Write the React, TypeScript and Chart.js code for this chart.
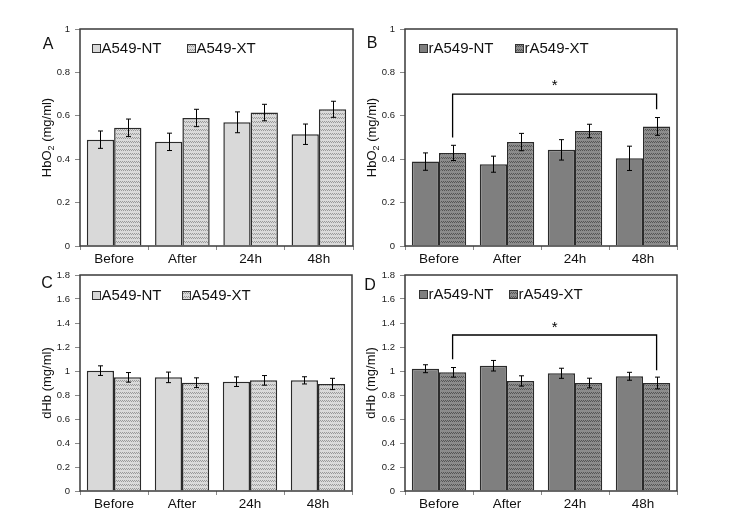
import React, { useEffect, useRef } from 'react';
import { Chart, registerables } from 'chart.js';
Chart.register(...registerables);

const FONT = "'Liberation Sans', Arial, sans-serif";

const categories = ['Before', 'After', '24h', '48h'];

// Panel A (HbO2, A549)
const aNT = [0.49, 0.48, 0.57, 0.515];
const aNTErr = [0.04, 0.04, 0.048, 0.047];
const aXT = [0.545, 0.59, 0.615, 0.63];
const aXTErr = [0.04, 0.04, 0.038, 0.037];

// Panel B (HbO2, rA549)
const bNT = [0.389, 0.377, 0.443, 0.404];
const bNTErr = [0.04, 0.037, 0.047, 0.056];
const bXT = [0.429, 0.479, 0.53, 0.551];
const bXTErr = [0.035, 0.04, 0.031, 0.041];

// Panel C (dHb, A549)
const cNT = [1.003, 0.947, 0.911, 0.922];
const cNTErr = [0.04, 0.044, 0.04, 0.03];
const cXT = [0.947, 0.903, 0.922, 0.892];
const cXTErr = [0.04, 0.04, 0.04, 0.047];

// Panel D (dHb, rA549)
const dNT = [1.019, 1.044, 0.981, 0.956];
const dNTErr = [0.033, 0.044, 0.042, 0.033];
const dXT = [0.989, 0.917, 0.9, 0.9];
const dXTErr = [0.04, 0.043, 0.04, 0.049];

// significance brackets: [fromIndex, toIndex, topValue, leftEndValue, rightEndValue, starValue]
const bracketB = [0, 3, 0.7, 0.5, 0.63, 0.75];
const bracketD = [0, 3, 1.3, 1.097, 1.006, 1.383];

const legendA = ['A549-NT', 'A549-XT'];
const legendB = ['rA549-NT', 'rA549-XT'];

function makePattern(base: string, line: string) {
  const c = document.createElement('canvas');
  c.width = 4;
  c.height = 4;
  const g = c.getContext('2d')!;
  g.fillStyle = base;
  g.fillRect(0, 0, 4, 4);
  g.fillStyle = line;
  g.fillRect(0, 1, 1, 1);
  g.fillRect(2, 1, 1, 1);
  g.fillRect(1, 2, 1, 1);
  g.fillRect(3, 2, 1, 1);
  return g.createPattern(c, 'repeat') as CanvasPattern;
}

type PanelCfg = {
  left: number; top: number; w: number; h: number;
  area: [number, number, number, number];
  letter: string; letterPos: [number, number];
  titleMain: string; titleSub: string; titleRest: string; titleX: number;
  yMax: number;
  legend: string[];
  legendSw: [number, number, number]; // x1, x2, y (page coords)
  nt: number[]; ntErr: number[]; xt: number[]; xtErr: number[];
  ntColor: string; xtBase: string; xtLine: string;
  bracket?: number[];
};

const panels: PanelCfg[] = [
  {
    left: 0, top: 0, w: 365, h: 272, area: [80, 29, 353, 246],
    letter: 'A', letterPos: [48, 45],
    titleMain: 'HbO', titleSub: '2', titleRest: ' (mg/ml)', titleX: 46,
    yMax: 1, legend: legendA, legendSw: [92, 187, 44],
    nt: aNT, ntErr: aNTErr, xt: aXT, xtErr: aXTErr,
    ntColor: '#d9d9d9', xtBase: '#dadada', xtLine: '#9a9a9a',
  },
  {
    left: 365, top: 0, w: 365, h: 272, area: [405, 29, 677, 246],
    letter: 'B', letterPos: [372, 44],
    titleMain: 'HbO', titleSub: '2', titleRest: ' (mg/ml)', titleX: 371,
    yMax: 1, legend: legendB, legendSw: [419, 515, 44],
    nt: bNT, ntErr: bNTErr, xt: bXT, xtErr: bXTErr,
    ntColor: '#7f7f7f', xtBase: '#8c8c8c', xtLine: '#555555',
    bracket: bracketB,
  },
  {
    left: 0, top: 255, w: 365, h: 262, area: [80, 275, 352, 491],
    letter: 'C', letterPos: [47, 284],
    titleMain: 'dHb', titleSub: '', titleRest: ' (mg/ml)', titleX: 46,
    yMax: 1.8, legend: legendA, legendSw: [92, 182, 291],
    nt: cNT, ntErr: cNTErr, xt: cXT, xtErr: cXTErr,
    ntColor: '#d9d9d9', xtBase: '#dadada', xtLine: '#9a9a9a',
  },
  {
    left: 365, top: 255, w: 365, h: 262, area: [405, 275, 677, 491],
    letter: 'D', letterPos: [370, 286],
    titleMain: 'dHb', titleSub: '', titleRest: ' (mg/ml)', titleX: 370,
    yMax: 1.8, legend: legendB, legendSw: [419, 509, 290],
    nt: dNT, ntErr: dNTErr, xt: dXT, xtErr: dXTErr,
    ntColor: '#7f7f7f', xtBase: '#8c8c8c', xtLine: '#555555',
    bracket: bracketD,
  },
];

function Panel({ cfg }: { cfg: PanelCfg }) {
  const ref = useRef<HTMLCanvasElement>(null);
  useEffect(() => {
    const canvas = ref.current!;
    const xtPattern = makePattern(cfg.xtBase, cfg.xtLine);
    const [aL, aT, aR, aB] = cfg.area;
    const yW = aL - cfg.left;
    const topPad = aT - cfg.top;
    const rightPad = cfg.left + cfg.w - aR;
    const xH = cfg.top + cfg.h - aB;
    const ox = cfg.left;
    const oy = cfg.top;

    const decor = {
      id: 'decor' + cfg.letter,
      afterDatasetsDraw(chart: any) {
        const ctx = chart.ctx as CanvasRenderingContext2D;
        const y = chart.scales.y;
        const errs = [cfg.ntErr, cfg.xtErr];
        const vals = [cfg.nt, cfg.xt];
        ctx.save();
        // error bars
        ctx.strokeStyle = '#000';
        ctx.lineWidth = 1;
        for (let d = 0; d < 2; d++) {
          const meta = chart.getDatasetMeta(d);
          meta.data.forEach((el: any, i: number) => {
            const x = Math.round(el.x) + 0.5;
            const y1 = y.getPixelForValue(vals[d][i] + errs[d][i]);
            const y2 = y.getPixelForValue(vals[d][i] - errs[d][i]);
            ctx.beginPath();
            ctx.moveTo(x, y1); ctx.lineTo(x, y2);
            ctx.moveTo(x - 2.5, y1); ctx.lineTo(x + 2.5, y1);
            ctx.moveTo(x - 2.5, y2); ctx.lineTo(x + 2.5, y2);
            ctx.stroke();
          });
        }
        // plot border
        const ca = chart.chartArea;
        ctx.strokeStyle = '#3a3a3a';
        ctx.lineWidth = 1.5;
        ctx.strokeRect(ca.left, ca.top, ca.right - ca.left, ca.bottom - ca.top);
        // bracket
        if (cfg.bracket) {
          const [fi, ti, topV, lV, rV, sV] = cfg.bracket;
          const meta = chart.getDatasetMeta(1);
          const xl = meta.data[fi].x;
          const xr = meta.data[ti].x;
          const yt = y.getPixelForValue(topV);
          ctx.strokeStyle = '#000';
          ctx.lineWidth = 1.3;
          ctx.beginPath();
          ctx.moveTo(xl, y.getPixelForValue(lV));
          ctx.lineTo(xl, yt);
          ctx.lineTo(xr, yt);
          ctx.lineTo(xr, y.getPixelForValue(rV));
          ctx.stroke();
          ctx.fillStyle = '#000';
          ctx.font = `15px ${FONT}`;
          ctx.textAlign = 'center';
          ctx.textBaseline = 'middle';
          ctx.fillText('*', (xl + xr) / 2, y.getPixelForValue(sV) + 3);
        }
        // legend
        const [s1, s2, sy] = cfg.legendSw;
        const fills = [cfg.ntColor, xtPattern];
        [s1, s2].forEach((sx, k) => {
          const px = sx - ox;
          const py = sy - oy;
          ctx.fillStyle = fills[k] as any;
          ctx.fillRect(px, py, 8, 8);
          ctx.strokeStyle = '#333';
          ctx.lineWidth = 1;
          ctx.strokeRect(px + 0.5, py + 0.5, 8, 8);
          ctx.fillStyle = '#111';
          ctx.font = `15px ${FONT}`;
          ctx.textAlign = 'left';
          ctx.textBaseline = 'middle';
          ctx.fillText(cfg.legend[k], px + 9.5, py + 4.5);
        });
        // panel letter
        ctx.fillStyle = '#111';
        ctx.font = `16px ${FONT}`;
        ctx.textAlign = 'center';
        ctx.textBaseline = 'middle';
        ctx.fillText(cfg.letter, cfg.letterPos[0] - ox, cfg.letterPos[1] - oy);
        // y title (rotated)
        ctx.translate(cfg.titleX - ox, (ca.top + ca.bottom) / 2);
        ctx.rotate(-Math.PI / 2);
        ctx.textBaseline = 'alphabetic';
        ctx.textAlign = 'left';
        const big = `13px ${FONT}`;
        const small = `9px ${FONT}`;
        ctx.font = big;
        const w1 = ctx.measureText(cfg.titleMain).width;
        const w3 = ctx.measureText(cfg.titleRest).width;
        ctx.font = small;
        const w2 = cfg.titleSub ? ctx.measureText(cfg.titleSub).width : 0;
        const total = w1 + w2 + w3;
        let cx = -total / 2;
        const base = 4.5;
        ctx.font = big;
        ctx.fillText(cfg.titleMain, cx, base);
        cx += w1;
        if (cfg.titleSub) {
          ctx.font = small;
          ctx.fillText(cfg.titleSub, cx, base + 3);
          cx += w2;
        }
        ctx.font = big;
        ctx.fillText(cfg.titleRest, cx, base);
        ctx.restore();
      },
    };

    const chart = new Chart(canvas, {
      type: 'bar',
      data: {
        labels: categories,
        datasets: [
          {
            label: cfg.legend[0], data: cfg.nt, backgroundColor: cfg.ntColor,
            borderColor: '#2b2b2b', borderWidth: 1.5, barPercentage: 1, categoryPercentage: 0.8,
          },
          {
            label: cfg.legend[1], data: cfg.xt, backgroundColor: xtPattern as any,
            borderColor: '#2b2b2b', borderWidth: 1.5, barPercentage: 1, categoryPercentage: 0.8,
          },
        ],
      },
      options: {
        animation: false,
        responsive: false,
        devicePixelRatio: 1,
        layout: { padding: { left: 0, top: topPad, right: rightPad, bottom: 0 } },
        plugins: { legend: { display: false }, tooltip: { enabled: false } },
        scales: {
          x: {
            grid: { display: true, drawOnChartArea: false, drawTicks: true, tickLength: 4, color: '#8a8a8a', offset: true },
            border: { display: false },
            ticks: { color: '#111', font: { family: FONT, size: 13.5 }, padding: 1 },
            afterFit: (s: any) => { s.height = xH; },
          },
          y: {
            min: 0,
            max: cfg.yMax,
            ticks: {
              stepSize: 0.2, color: '#222', font: { family: FONT, size: 9.5 }, padding: 5,
              callback: (v: any) => String(Number(Number(v).toFixed(1))),
            },
            grid: { display: true, drawOnChartArea: false, drawTicks: true, tickLength: 5, color: '#8a8a8a' },
            border: { display: false },
            afterFit: (s: any) => { s.width = yW; },
          },
        },
      },
      plugins: [decor],
    });
    return () => chart.destroy();
  }, [cfg]);
  return (
    <canvas
      ref={ref}
      width={cfg.w}
      height={cfg.h}
      style={{ position: 'absolute', left: cfg.left, top: cfg.top, width: cfg.w, height: cfg.h }}
    />
  );
}

export default function App() {
  return (
    <div style={{ position: 'absolute', left: 0, top: 0, width: 730, height: 523, background: '#fff' }}>
      {panels.map((p) => (
        <Panel key={p.letter} cfg={p} />
      ))}
    </div>
  );
}
